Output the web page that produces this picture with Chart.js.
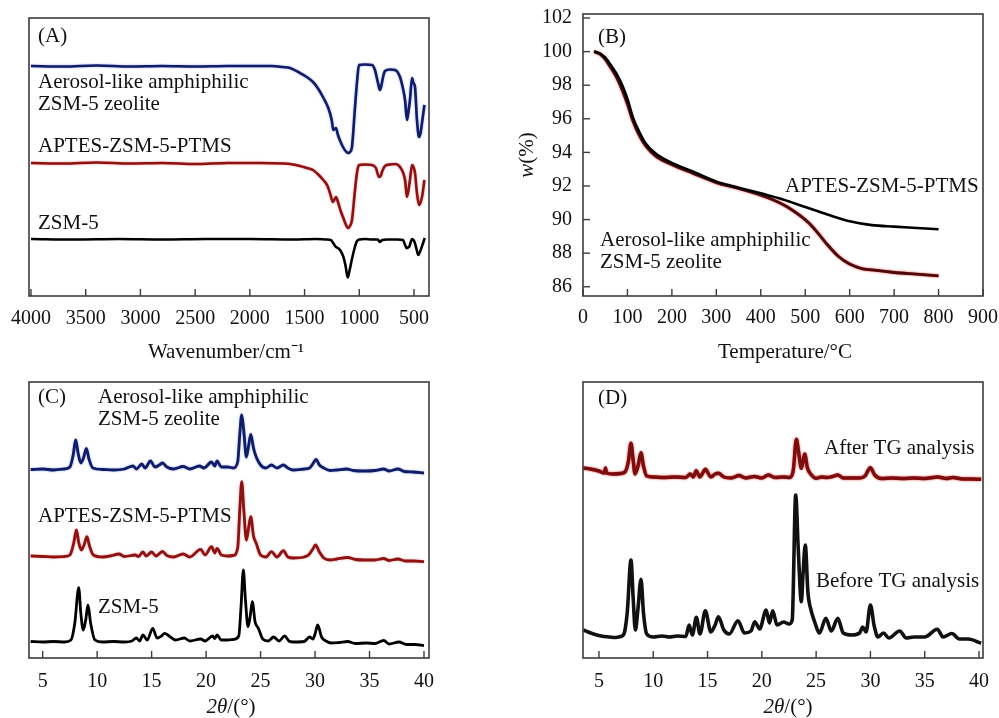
<!DOCTYPE html>
<html>
<head>
<meta charset="utf-8">
<script src="https://cdn.jsdelivr.net/npm/chart.js@4.4.1/dist/chart.umd.min.js"></script>
<style>
body { margin: 0; background: #fff; width: 999px; height: 718px; overflow: hidden; position: relative; }
canvas { position: absolute; }
</style>
</head>
<body>
<canvas id="chartA" width="499" height="370" style="left:0;top:0"></canvas>
<canvas id="chartB" width="500" height="370" style="left:499px;top:0"></canvas>
<canvas id="chartC" width="499" height="348" style="left:0;top:370px"></canvas>
<canvas id="chartD" width="500" height="348" style="left:499px;top:370px"></canvas>
<script>
// (A) FTIR, wavenumber in cm-1, intensity in arbitrary offset units
const ftirAeroX = [4000, 3700, 3400, 3100, 2800, 2500, 2200, 1900, 1800, 1700, 1633, 1542, 1480, 1423, 1380, 1332, 1283, 1252, 1237, 1225, 1213, 1195, 1170, 1149, 1125, 1103, 1085, 1067, 1039, 1020, 1003, 950, 884, 857, 829, 811, 795, 783, 765, 720, 674, 628, 600, 582, 564, 550, 537, 518, 505, 491, 473, 454, 440, 427, 405];
const ftirAeroY = [230, 229.5, 230.5, 229.5, 230, 229.5, 230, 230, 230, 229, 228, 223, 219, 214, 208, 199, 188, 176, 166, 167, 168, 161, 154, 149, 145, 143, 144, 149, 189, 215, 231, 231.5, 231, 226, 213, 206, 212, 219, 225, 226.5, 226, 219, 207, 196, 176, 185, 196, 218, 213, 209, 176, 159, 163, 173, 191];
const ftirAptesX = [4000, 3700, 3400, 3100, 2800, 2500, 2200, 1900, 1700, 1633, 1542, 1480, 1423, 1380, 1329, 1290, 1268, 1240, 1213, 1192, 1170, 1149, 1125, 1103, 1085, 1067, 1039, 1020, 1003, 950, 884, 848, 820, 800, 793, 765, 720, 674, 628, 582, 564, 537, 518, 491, 473, 454, 427, 405];
const ftirAptesY = [133, 132.5, 133.5, 132.5, 133, 132, 133, 133, 132.5, 132, 130, 128, 126, 122, 116, 110, 103, 94, 99, 93, 85, 79, 72, 68, 70, 76, 106, 124, 131, 131.5, 131, 128, 119, 121, 124, 130, 131.5, 132, 129, 116, 99, 116, 131, 123, 103, 91, 99, 116];
const ftirZsmX = [4000, 3600, 3200, 2800, 2400, 2000, 1600, 1400, 1300, 1260, 1237, 1216, 1192, 1170, 1146, 1125, 1106, 1088, 1069, 1045, 1024, 1000, 950, 880, 830, 811, 790, 750, 650, 600, 585, 567, 555, 543, 530, 518, 505, 491, 475, 461, 450, 439, 420, 402];
const ftirZsmY = [57, 56.5, 57, 56.5, 57, 57, 56.5, 57, 56.5, 56, 52.7, 49.3, 47.7, 45, 39.3, 30, 18.5, 26, 36, 47, 54.3, 56.5, 57, 56.5, 56.5, 54, 56, 56.5, 56.5, 56, 52, 47.7, 48.5, 49.3, 54, 57, 56, 52.7, 46, 41, 43, 46, 52, 58];
const ftirTicks = [4000, 3500, 3000, 2500, 2000, 1500, 1000, 500];

// (B) TG curves
const tgAptesT = [25, 38, 50, 60, 75, 90, 101, 112, 127, 142, 165, 202, 248, 300, 350, 400, 450, 500, 550, 600, 650, 700, 750, 800];
const tgAptesW = [100, 99.9, 99.65, 99.3, 98.7, 97.9, 97.1, 96.1, 95.2, 94.5, 93.9, 93.35, 92.85, 92.26, 91.9, 91.56, 91.2, 90.75, 90.3, 89.9, 89.67, 89.58, 89.5, 89.42];
const tgAeroT = [25, 38, 50, 60, 75, 90, 101, 112, 127, 142, 165, 202, 248, 300, 350, 400, 430, 460, 490, 510, 530, 550, 575, 600, 625, 650, 700, 750, 800];
const tgAeroW = [100, 99.85, 99.55, 99.15, 98.5, 97.6, 96.8, 95.9, 95.0, 94.35, 93.75, 93.25, 92.75, 92.2, 91.85, 91.45, 91.15, 90.75, 90.2, 89.75, 89.15, 88.5, 87.8, 87.35, 87.1, 87.0, 86.85, 86.75, 86.65];
const tgTempTicks = [0, 100, 200, 300, 400, 500, 600, 700, 800, 900];
const tgWeightTicks = [86, 88, 90, 92, 94, 96, 98, 100, 102];

// (C) XRD of the three samples
const xrdAeroX = [3.9, 5, 6, 7, 7.5, 7.8, 8.03, 8.25, 8.5, 8.75, 9.01, 9.25, 9.6, 10.5, 11.5, 12.5, 13.3, 13.6, 14.1, 14.4, 14.9, 15.3, 15.7, 16.0, 16.4, 17.0, 17.9, 18.5, 19.4, 19.8, 20.5, 20.8, 21.0, 21.4, 22.0, 22.5, 22.9, 23.1, 23.27, 23.45, 23.7, 23.9, 24.1, 24.35, 24.6, 25.0, 25.5, 26.0, 26.5, 27.1, 27.5, 28.0, 29.0, 29.5, 29.85, 30.09, 30.4, 30.8, 31.4, 32.0, 32.9, 33.5, 34.7, 35.5, 36.3, 36.8, 37.6, 38.2, 39.0, 40.0];
const xrdAeroY = [188.5, 189, 188, 189, 191, 203, 218, 205, 195, 200, 209.7, 199, 190, 188.5, 188, 189, 192, 189, 194, 190, 197, 191, 193, 195, 191, 189, 191.5, 189, 192, 190, 196, 192, 197, 191, 191, 190, 196, 225, 243, 228, 201, 212, 223.7, 210, 201, 193, 190, 193, 190, 193, 190, 188, 189, 190, 195, 198.7, 193, 190, 187.5, 188, 189, 187.5, 187, 187.5, 189, 187, 189, 186.5, 186, 185];
const xrdAptesX = [3.9, 5, 6, 7, 7.5, 7.85, 8.1, 8.3, 8.55, 8.8, 9.06, 9.3, 9.65, 10.5, 11.2, 12.0, 12.5, 13.5, 13.8, 14.2, 14.5, 15.0, 15.4, 16.0, 16.4, 17.0, 17.9, 18.5, 19.5, 19.9, 20.5, 20.8, 21.0, 21.4, 22.0, 22.5, 22.9, 23.1, 23.27, 23.45, 23.7, 23.9, 24.1, 24.35, 24.6, 25.0, 25.5, 26.0, 26.5, 27.1, 27.5, 28.0, 29.0, 29.4, 29.8, 30.05, 30.4, 30.8, 31.4, 32.0, 33.0, 33.7, 34.5, 35.5, 36.3, 36.8, 37.6, 38.3, 39.0, 40.0];
const xrdAptesY = [102, 101.5, 101, 101.5, 103, 115, 128, 116, 108, 113, 121.3, 112, 103, 101, 102, 104, 101.5, 103, 101.5, 106, 102, 106, 102, 106.5, 102.5, 101, 104, 101, 108.7, 103, 111.3, 105, 109.7, 103, 102, 102.5, 110, 150, 176.3, 150, 118, 130, 141.3, 122, 114.7, 103, 101, 106.3, 101, 107.3, 101, 100, 101, 103, 109, 113, 106, 100, 98, 99, 100.5, 98.5, 98, 98, 99.5, 97.5, 99, 97, 97, 96.3];
const xrdZsmX = [3.9, 5, 6, 7, 7.6, 7.95, 8.31, 8.5, 8.72, 8.95, 9.16, 9.4, 9.8, 10.5, 11.5, 12.5, 13.2, 13.6, 13.9, 14.2, 14.6, 15.1, 15.5, 15.9, 16.2, 16.6, 17.2, 18.0, 18.5, 19.5, 19.9, 20.6, 20.8, 21.0, 21.4, 22.0, 22.5, 23.0, 23.2, 23.42, 23.6, 23.85, 24.05, 24.24, 24.5, 24.8, 25.2, 25.7, 26.2, 26.7, 27.2, 27.6, 28.0, 29.0, 29.5, 29.8, 30.0, 30.24, 30.6, 31.0, 31.5, 32.2, 33.0, 33.7, 34.7, 35.5, 36.3, 36.8, 37.7, 38.4, 39.2, 40.0];
const xrdZsmY = [16.5, 16, 16.5, 16, 18, 35, 70.3, 45, 28, 38, 53, 35, 18, 16, 16.5, 16, 17, 20, 17, 23, 18, 29.7, 20, 22, 24.7, 22, 18, 20, 17, 19, 17, 22, 19.5, 23, 18, 18, 18.5, 22, 50, 88, 60, 31.3, 42, 56.3, 36, 29.7, 19, 17, 21, 17, 22, 17, 16, 16.5, 21, 19, 24, 33, 21, 17, 15, 15.5, 16.5, 14.5, 15, 14.5, 17.5, 14, 16, 13.5, 13.5, 12.3];

// (D) XRD before / after TG
const xrdAfterX = [3.55, 4.2, 5.0, 5.5, 5.6, 5.7, 6.3, 7.0, 7.4, 7.7, 7.95, 8.15, 8.32, 8.6, 8.87, 9.1, 9.4, 10.0, 11.0, 12.0, 13.0, 13.4, 13.7, 13.95, 14.3, 14.8, 15.3, 15.7, 16.0, 16.5, 17.2, 17.9, 18.5, 19.3, 20.0, 20.6, 21.2, 22.0, 22.6, 22.9, 23.18, 23.4, 23.64, 23.8, 23.95, 24.2, 24.5, 25.0, 25.5, 26.0, 26.5, 27.0, 27.5, 28.3, 29.0, 29.5, 30.0, 30.4, 31.0, 32.0, 33.0, 34.0, 35.0, 36.2, 37.0, 37.6, 38.5, 39.3, 40.2];
const xrdAfterY = [190, 189, 187, 185, 190, 185, 184, 184.5, 186, 196, 214.7, 198, 184, 192, 205.3, 192, 182, 181, 180.5, 181, 180.5, 184, 181, 187.3, 181, 188.7, 181, 184, 184.7, 181, 180, 182.5, 180, 181.5, 180, 183, 180.5, 181, 180.5, 188, 218.7, 205, 189.7, 197, 204, 190, 184, 179.7, 181, 180.5, 181.5, 183, 180, 180, 180, 182, 190.3, 183, 179.5, 180, 179.5, 180, 179.5, 181, 179.5, 180.5, 179, 179, 178.7];
const xrdBeforeX = [3.55, 4.0, 4.5, 5.2, 6.0, 6.5, 7.0, 7.3, 7.6, 7.95, 8.15, 8.35, 8.6, 8.87, 9.1, 9.4, 10.0, 10.8, 11.5, 12.2, 13.0, 13.3, 13.6, 13.97, 14.3, 14.8, 15.3, 15.7, 16.0, 16.5, 17.0, 17.8, 18.4, 19.0, 19.35, 19.8, 20.4, 20.7, 21.0, 21.4, 22.0, 22.5, 22.8, 23.12, 23.35, 23.64, 23.8, 24.0, 24.25, 24.45, 24.9, 25.3, 25.9, 26.4, 27.0, 27.5, 28.3, 29.0, 29.3, 29.6, 30.0, 30.35, 30.7, 31.2, 31.7, 32.7, 33.3, 34.0, 35.0, 36.16, 36.7, 37.5, 38.2, 39.0, 40.2];
const xrdBeforeY = [28, 26, 24, 22, 21, 20.5, 21.5, 24, 45, 98, 60, 28, 50, 78.7, 45, 24, 21, 22, 21, 22, 21.5, 33, 23, 40.7, 24, 47.3, 26, 33, 41.3, 28, 24, 37.3, 25, 27, 36.3, 29, 48, 35, 47.3, 33, 36, 34, 38, 163, 110, 56.3, 85, 113, 65, 51.3, 35, 25, 39.7, 27, 39.7, 25, 23, 25, 31, 26, 53, 32, 21, 25, 20, 27, 20, 21, 21, 28.7, 21, 24.5, 19, 19, 14.7];
const xrdTicks = [5, 10, 15, 20, 25, 30, 35, 40];

const BLUE = '#111c66';
const RED = '#8e1212';
const BLACK = '#000000';
const SERIF = '"Liberation Serif", "Times New Roman", serif';

Chart.defaults.font.family = SERIF;
Chart.defaults.font.size = 20;
Chart.defaults.color = '#111';

function pts(xs, ys) {
    const n = Math.min(xs.length, ys.length);
    const out = [];
    for (let i = 0; i < n; i++) out.push({ x: xs[i], y: ys[i] });
    return out;
}

function series(label, xs, ys, color, width, glow) {
    return {
        label: label,
        data: pts(xs, ys),
        borderColor: color,
        borderWidth: width,
        pointRadius: 0,
        fill: false,
        glow: glow || null,
        cubicInterpolationMode: 'monotone'
    };
}

function noPad(s) {
    s.paddingLeft = 0;
    s.paddingRight = 0;
    s.paddingTop = 0;
    s.paddingBottom = 0;
}

function xAxis(min, max, ticks, pad, height, reverse) {
    return {
        type: 'linear',
        min: min,
        max: max,
        reverse: !!reverse,
        grid: { display: false, drawTicks: false },
        border: { display: false },
        ticks: { padding: pad, autoSkip: false, maxRotation: 0, color: '#111', callback: v => String(v) },
        afterBuildTicks: s => { s.ticks = ticks.map(v => ({ value: v })); },
        afterFit: s => { s.height = height; noPad(s); }
    };
}

// soft coloured fringe round some traces, like the scanned figure
const glow = {
    id: 'glow',
    beforeDatasetDraw(chart, args) {
        const g = chart.data.datasets[args.index].glow;
        chart.ctx.save();
        if (g) {
            chart.ctx.shadowColor = g;
            chart.ctx.shadowBlur = 2;
        }
    },
    afterDatasetDraw(chart) {
        chart.ctx.restore();
    }
};

// frame, inward ticks and all labels of a panel
const deco = {
    id: 'deco',
    afterDraw(chart, args, opts) {
        const ctx = chart.ctx;
        const a = chart.chartArea;
        ctx.save();
        ctx.strokeStyle = '#3c3c3c';
        ctx.lineWidth = 1.6;
        ctx.strokeRect(a.left, a.top, a.right - a.left, a.bottom - a.top);
        ctx.lineWidth = 1.4;
        const xs = chart.scales.x;
        xs.ticks.forEach(t => {
            const px = xs.getPixelForValue(t.value);
            ctx.beginPath();
            ctx.moveTo(px, a.bottom);
            ctx.lineTo(px, a.bottom - 7);
            ctx.stroke();
        });
        if (opts.yTicks) {
            const ys = chart.scales.y;
            ys.ticks.forEach(t => {
                const py = ys.getPixelForValue(t.value);
                ctx.beginPath();
                ctx.moveTo(a.left, py);
                ctx.lineTo(a.left + 7, py);
                ctx.stroke();
            });
        }
        ctx.fillStyle = '#111';
        ctx.textBaseline = 'middle';
        (opts.texts || []).forEach(t => {
            const parts = t.parts || [[t.text, false]];
            const fonts = parts.map(p => (p[1] ? 'italic ' : '') + '21px ' + SERIF);
            let total = 0;
            const widths = parts.map((p, i) => { ctx.font = fonts[i]; const w = ctx.measureText(p[0]).width; total += w; return w; });
            ctx.save();
            ctx.translate(t.x, t.y);
            if (t.rotate) ctx.rotate(-Math.PI / 2);
            let cx = t.center ? -total / 2 : 0;
            ctx.textAlign = 'left';
            parts.forEach((p, i) => {
                ctx.font = fonts[i];
                ctx.fillText(p[0], cx, 0);
                cx += widths[i];
            });
            ctx.restore();
        });
        ctx.restore();
    }
};

const base = {
    responsive: false,
    animation: false,
    devicePixelRatio: 1
};

// (A)
new Chart(document.getElementById('chartA'), {
    type: 'line',
    data: {
        datasets: [
            series('Aerosol-like amphiphilic ZSM-5 zeolite', ftirAeroX, ftirAeroY, BLUE, 2.6, 'rgba(40,80,220,0.55)'),
            series('APTES-ZSM-5-PTMS', ftirAptesX, ftirAptesY, RED, 2.6, 'rgba(220,40,40,0.5)'),
            series('ZSM-5', ftirZsmX, ftirZsmY, BLACK, 2.6)
        ]
    },
    options: Object.assign({}, base, {
        layout: { padding: { left: 29, right: 70, top: 18, bottom: 0 } },
        scales: {
            x: xAxis(363, 4018, ftirTicks, 11, 74, true),
            y: { type: 'linear', min: 0, max: 278, display: false }
        },
        plugins: {
            legend: { display: false },
            tooltip: { enabled: false },
            deco: {
                texts: [
                    { text: '(A)', x: 38, y: 36 },
                    { text: 'Aerosol-like amphiphilic', x: 38, y: 82 },
                    { text: 'ZSM-5 zeolite', x: 38, y: 104 },
                    { text: 'APTES-ZSM-5-PTMS', x: 38, y: 146 },
                    { text: 'ZSM-5', x: 38, y: 223 },
                    { parts: [['Wavenumber/cm\u207B\u00B9', false]], x: 226, y: 352, center: true }
                ]
            }
        }
    }),
    plugins: [glow, deco]
});

// (B)
new Chart(document.getElementById('chartB'), {
    type: 'line',
    data: {
        datasets: [
            series('APTES-ZSM-5-PTMS', tgAptesT, tgAptesW, BLACK, 2.6),
            series('Aerosol-like amphiphilic ZSM-5 zeolite', tgAeroT, tgAeroW, '#4a0a0a', 2.8, 'rgba(230,30,30,1)')
        ]
    },
    options: Object.assign({}, base, {
        layout: { padding: { left: 0, right: 16, top: 14, bottom: 0 } },
        scales: {
            x: xAxis(0, 900, tgTempTicks, 10, 74, false),
            y: {
                type: 'linear',
                min: 85.45,
                max: 102.24,
                grid: { display: false, drawTicks: false },
                border: { display: false },
                ticks: { padding: 11, color: '#111', callback: v => String(v) },
                afterBuildTicks: s => { s.ticks = tgWeightTicks.map(v => ({ value: v })); },
                afterFit: s => { s.width = 84; noPad(s); }
            }
        },
        plugins: {
            legend: { display: false },
            tooltip: { enabled: false },
            deco: {
                yTicks: true,
                texts: [
                    { text: '(B)', x: 99, y: 37 },
                    { text: 'APTES-ZSM-5-PTMS', x: 286, y: 186 },
                    { text: 'Aerosol-like amphiphilic', x: 101, y: 240 },
                    { text: 'ZSM-5 zeolite', x: 101, y: 262 },
                    { parts: [['w', true], ['(%)', false]], x: 28, y: 155, center: true, rotate: true },
                    { parts: [['Temperature/\u00B0C', false]], x: 286, y: 352, center: true }
                ]
            }
        }
    }),
    plugins: [glow, deco]
});

// (C)
new Chart(document.getElementById('chartC'), {
    type: 'line',
    data: {
        datasets: [
            series('Aerosol-like amphiphilic ZSM-5 zeolite', xrdAeroX, xrdAeroY, BLUE, 2.8, 'rgba(40,80,220,0.55)'),
            series('APTES-ZSM-5-PTMS', xrdAptesX, xrdAptesY, RED, 2.8, 'rgba(220,40,40,0.5)'),
            series('ZSM-5', xrdZsmX, xrdZsmY, BLACK, 2.8)
        ]
    },
    options: Object.assign({}, base, {
        layout: { padding: { left: 29, right: 70, top: 12, bottom: 0 } },
        scales: {
            x: xAxis(3.745, 40.46, xrdTicks, 12, 60, false),
            y: { type: 'linear', min: 0, max: 276, display: false }
        },
        plugins: {
            legend: { display: false },
            tooltip: { enabled: false },
            deco: {
                texts: [
                    { text: '(C)', x: 38, y: 27 },
                    { text: 'Aerosol-like amphiphilic', x: 98, y: 27 },
                    { text: 'ZSM-5 zeolite', x: 98, y: 49 },
                    { text: 'APTES-ZSM-5-PTMS', x: 38, y: 146 },
                    { text: 'ZSM-5', x: 98, y: 237 },
                    { parts: [['2\u03B8', true], ['/(\u00B0)', false]], x: 231, y: 337, center: true }
                ]
            }
        }
    }),
    plugins: [glow, deco]
});

// (D)
new Chart(document.getElementById('chartD'), {
    type: 'line',
    data: {
        datasets: [
            series('After TG analysis', xrdAfterX, xrdAfterY, '#7a0d0d', 3.4, 'rgba(230,30,30,1)'),
            series('Before TG analysis', xrdBeforeX, xrdBeforeY, '#111111', 3.6)
        ]
    },
    options: Object.assign({}, base, {
        layout: { padding: { left: 84, right: 16, top: 12, bottom: 0 } },
        scales: {
            x: xAxis(3.53, 40.37, xrdTicks, 12, 60, false),
            y: { type: 'linear', min: 0, max: 276, display: false }
        },
        plugins: {
            legend: { display: false },
            tooltip: { enabled: false },
            deco: {
                texts: [
                    { text: '(D)', x: 99, y: 28 },
                    { text: 'After TG analysis', x: 325, y: 78 },
                    { text: 'Before TG analysis', x: 317, y: 211 },
                    { parts: [['2\u03B8', true], ['/(\u00B0)', false]], x: 289, y: 337, center: true }
                ]
            }
        }
    }),
    plugins: [glow, deco]
});
</script>
</body>
</html>
